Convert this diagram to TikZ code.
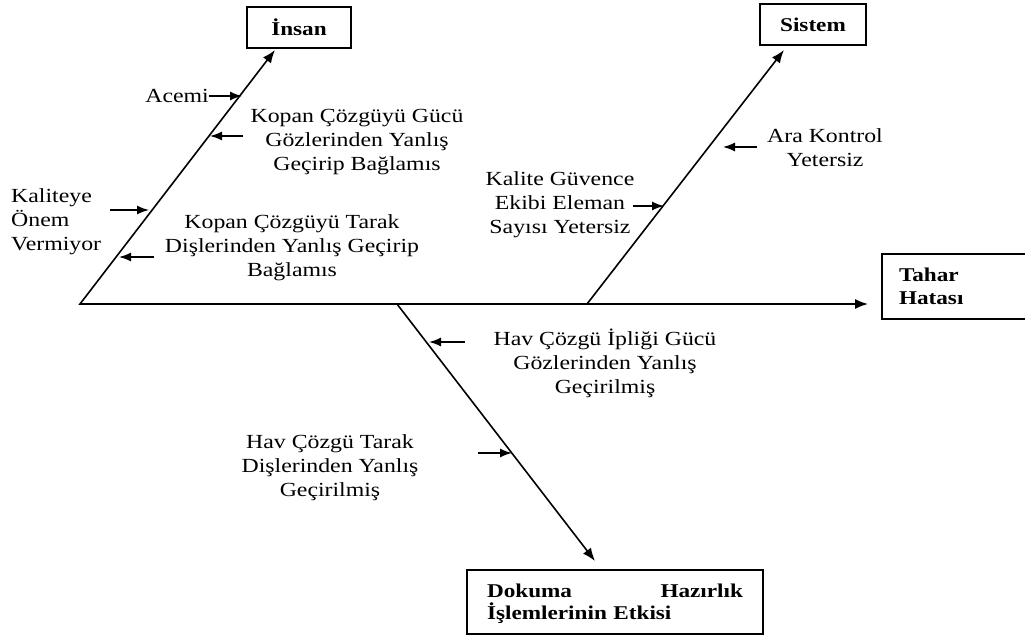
\documentclass[tikz,border=0pt]{standalone}
\usepackage{fontspec}
\setmainfont{Liberation Serif}[FakeStretch=1.19]
\usetikzlibrary{arrows.meta}
\begin{document}
\begin{tikzpicture}[x=1pt,y=-1pt,
  bone/.style={line width=1.6pt},
  bonetip/.style={-{Latex[length=13pt,width=10pt]}},
  cause/.style={line width=1.5pt,-{Latex[length=12pt,width=9pt]}},
  lbl/.style={inner sep=0pt,font=\fontsize{20}{24}\selectfont,align=center},
  head/.style={draw,line width=1.4pt,inner sep=0pt,font=\fontsize{19.5}{23}\selectfont\bfseries}
]
\fill[white] (0,0) rectangle (1025,637);
\useasboundingbox (0,0) rectangle (1025,637);

% category and effect boxes
\node[head,minimum width=104pt,minimum height=41pt] (insan) at (299,27.5) {İnsan};
\node[head,minimum width=106pt,minimum height=41pt] (sistem) at (813,24.5) {Sistem};
\node[head,minimum width=148pt,minimum height=65pt,text width=114pt,align=left] (tahar) at (956,286.5) {Tahar\\Hatası};
\node[head,minimum width=296pt,minimum height=64pt,text width=256pt,align=left,
      font=\fontsize{19.5}{22}\selectfont\bfseries] (dokuma) at (615,602)
      {\rule{0pt}{18pt}Dokuma\hfill Hazırlık\\İşlemlerinin Etkisi};

% spine and main bones
\coordinate (tail)  at (80,304);
\coordinate (head)  at (868,304);
\coordinate (sfoot) at (587,304);
\coordinate (dfoot) at (397,304);
\coordinate (itip)  at (275,50);
\coordinate (stip)  at (784,50);
\coordinate (dtip)  at (595,561);

\draw[bone,{Latex[length=13pt,width=10pt]}-{Latex[length=13pt,width=10pt]}] (itip) -- (tail) -- (head);
\draw[bone,bonetip] (sfoot) -- (stip);
\draw[bone,bonetip] (dfoot) -- (dtip);

% causes on the İnsan bone
\node[lbl,anchor=east] (acemi) at (209,96) {Acemi};
\coordinate (acemi-t) at (242,96);
\draw[cause] (acemi.east) -- (acemi-t);

\node[lbl] (kgucu) at (357,142) {Kopan Çözgüyü Gücü\\Gözlerinden Yanlış\\Geçirip Bağlamıs};
\coordinate (kgucu-s) at (243,136);
\coordinate (kgucu-t) at (210,136);
\draw[cause] (kgucu-s) -- (kgucu-t);

\node[lbl,align=left,anchor=west] (kalite) at (11,222) {Kaliteye\\Önem\\Vermiyor};
\coordinate (kalite-s) at (110,210);
\coordinate (kalite-t) at (149,210);
\draw[cause] (kalite-s) -- (kalite-t);

\node[lbl] (ktarak) at (292,248) {Kopan Çözgüyü Tarak\\Dişlerinden Yanlış Geçirip\\Bağlamıs};
\coordinate (ktarak-s) at (154,257);
\coordinate (ktarak-t) at (119,257);
\draw[cause] (ktarak-s) -- (ktarak-t);

% causes on the Sistem bone
\node[lbl] (kgv) at (560,205) {Kalite Güvence\\Ekibi Eleman\\Sayısı Yetersiz};
\coordinate (kgv-s) at (633,206);
\coordinate (kgv-t) at (664,206);
\draw[cause] (kgv-s) -- (kgv-t);

\node[lbl] (ara) at (825,148) {Ara Kontrol\\Yetersiz};
\coordinate (ara-s) at (757,147);
\coordinate (ara-t) at (723,147);
\draw[cause] (ara-s) -- (ara-t);

% causes on the Dokuma Hazırlık bone
\node[lbl] (hipl) at (605,363) {Hav Çözgü İpliği Gücü\\Gözlerinden Yanlış\\Geçirilmiş};
\coordinate (hipl-s) at (465,342);
\coordinate (hipl-t) at (429,342);
\draw[cause] (hipl-s) -- (hipl-t);

\node[lbl] (htar) at (330,468) {Hav Çözgü Tarak\\Dişlerinden Yanlış\\Geçirilmiş};
\coordinate (htar-s) at (478,453);
\coordinate (htar-t) at (512,453);
\draw[cause] (htar-s) -- (htar-t);
\end{tikzpicture}
\end{document}
